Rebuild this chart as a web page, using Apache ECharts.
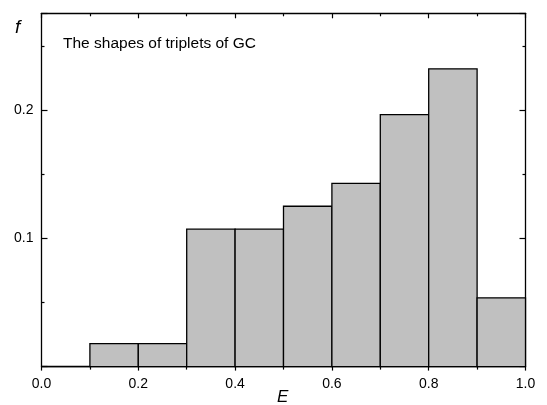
<!DOCTYPE html>
<html>
<head>
<meta charset="utf-8">
<script src="https://cdn.jsdelivr.net/npm/echarts@6/dist/echarts.min.js"></script>
<style>html,body{margin:0;padding:0;background:#fff;}#c{width:547px;height:405px;}</style>
</head>
<body>
<div id="c"></div>
<script>
var binStarts = [0.0, 0.1, 0.2, 0.3, 0.4, 0.5, 0.6, 0.7, 0.8, 0.9];
var binWidth = 0.1;
var frequencies = [0, 0.0179, 0.0179, 0.1071, 0.1071, 0.125, 0.1429, 0.1964, 0.2321, 0.0536];
var xTicks = [0.0, 0.2, 0.4, 0.6, 0.8, 1.0];
var yTicks = [0.1, 0.2];
var titleText = 'The shapes of triplets of GC';

var chart = echarts.init(document.getElementById('c'), null, {renderer: 'canvas'});
var font = '"Liberation Sans", Arial, sans-serif';
var data = binStarts.map(function (s, i) { return [s, s + binWidth, frequencies[i]]; });

function fmtX(v) {
  for (var i = 0; i < xTicks.length; i++) if (Math.abs(v - xTicks[i]) < 1e-6) return xTicks[i].toFixed(1);
  return '';
}
function fmtY(v) {
  for (var i = 0; i < yTicks.length; i++) if (Math.abs(v - yTicks[i]) < 1e-6) return yTicks[i].toFixed(1);
  return '';
}

function axisLine() { return {show: true, onZero: false, lineStyle: {color: '#000', width: 1.3}}; }
var tickStyle = {color: '#000', width: 1.2};

chart.setOption({
  animation: false,
  backgroundColor: '#fff',
  grid: {left: 41.5, right: 21.5, top: 13.3, bottom: 38.4, containLabel: false},
  graphic: [
    {type: 'text', left: 63, top: 36, style: {text: titleText, font: '15.5px ' + font, fill: '#000'}},
    {type: 'text', left: 15, top: 18, style: {text: 'f', font: 'italic 19px ' + font, fill: '#000'}},
    {type: 'text', left: 277, top: 389, style: {text: 'E', font: 'italic 17px ' + font, fill: '#000'}}
  ],
  xAxis: [
    {type: 'value', position: 'bottom', min: 0, max: 1, interval: 0.2,
     axisLine: axisLine(),
     axisTick: {show: true, inside: false, length: 4, lineStyle: tickStyle},
     minorTick: {show: true, splitNumber: 2, length: 3, lineStyle: tickStyle},
     axisLabel: {formatter: fmtX, color: '#000', fontSize: 14, fontFamily: font, margin: 11},
     splitLine: {show: false}},
    {type: 'value', position: 'top', min: 0, max: 1, interval: 0.2,
     axisLine: axisLine(),
     axisTick: {show: true, inside: true, length: 5, lineStyle: tickStyle},
     minorTick: {show: true, splitNumber: 2, length: 3, lineStyle: tickStyle},
     axisLabel: {show: false}, splitLine: {show: false}}
  ],
  yAxis: [
    {type: 'value', position: 'left', min: 0, max: 0.2754, interval: 0.1,
     axisLine: axisLine(),
     axisTick: {show: true, inside: true, length: 6, lineStyle: tickStyle},
     minorTick: {show: true, splitNumber: 2, length: 3, lineStyle: tickStyle},
     axisLabel: {formatter: fmtY, color: '#000', fontSize: 14, fontFamily: font, margin: 8, showMaxLabel: false},
     splitLine: {show: false}},
    {type: 'value', position: 'right', min: 0, max: 0.2754, interval: 0.1,
     axisLine: axisLine(),
     axisTick: {show: true, inside: true, length: 6, lineStyle: tickStyle},
     minorTick: {show: true, splitNumber: 2, length: 3, lineStyle: tickStyle},
     axisLabel: {show: false}, splitLine: {show: false}}
  ],
  series: [{
    type: 'custom',
    xAxisIndex: 0, yAxisIndex: 0,
    data: data,
    clip: false,
    renderItem: function (params, api) {
      var p0 = api.coord([api.value(0), api.value(2)]);
      var p1 = api.coord([api.value(1), 0]);
      return {
        type: 'rect',
        shape: {x: p0[0], y: p0[1], width: p1[0] - p0[0], height: p1[1] - p0[1]},
        style: {fill: '#c0c0c0', stroke: '#000', lineWidth: 1.3}
      };
    },
    encode: {x: [0, 1], y: 2},
    z: 1
  }]
});
</script>
</body>
</html>
